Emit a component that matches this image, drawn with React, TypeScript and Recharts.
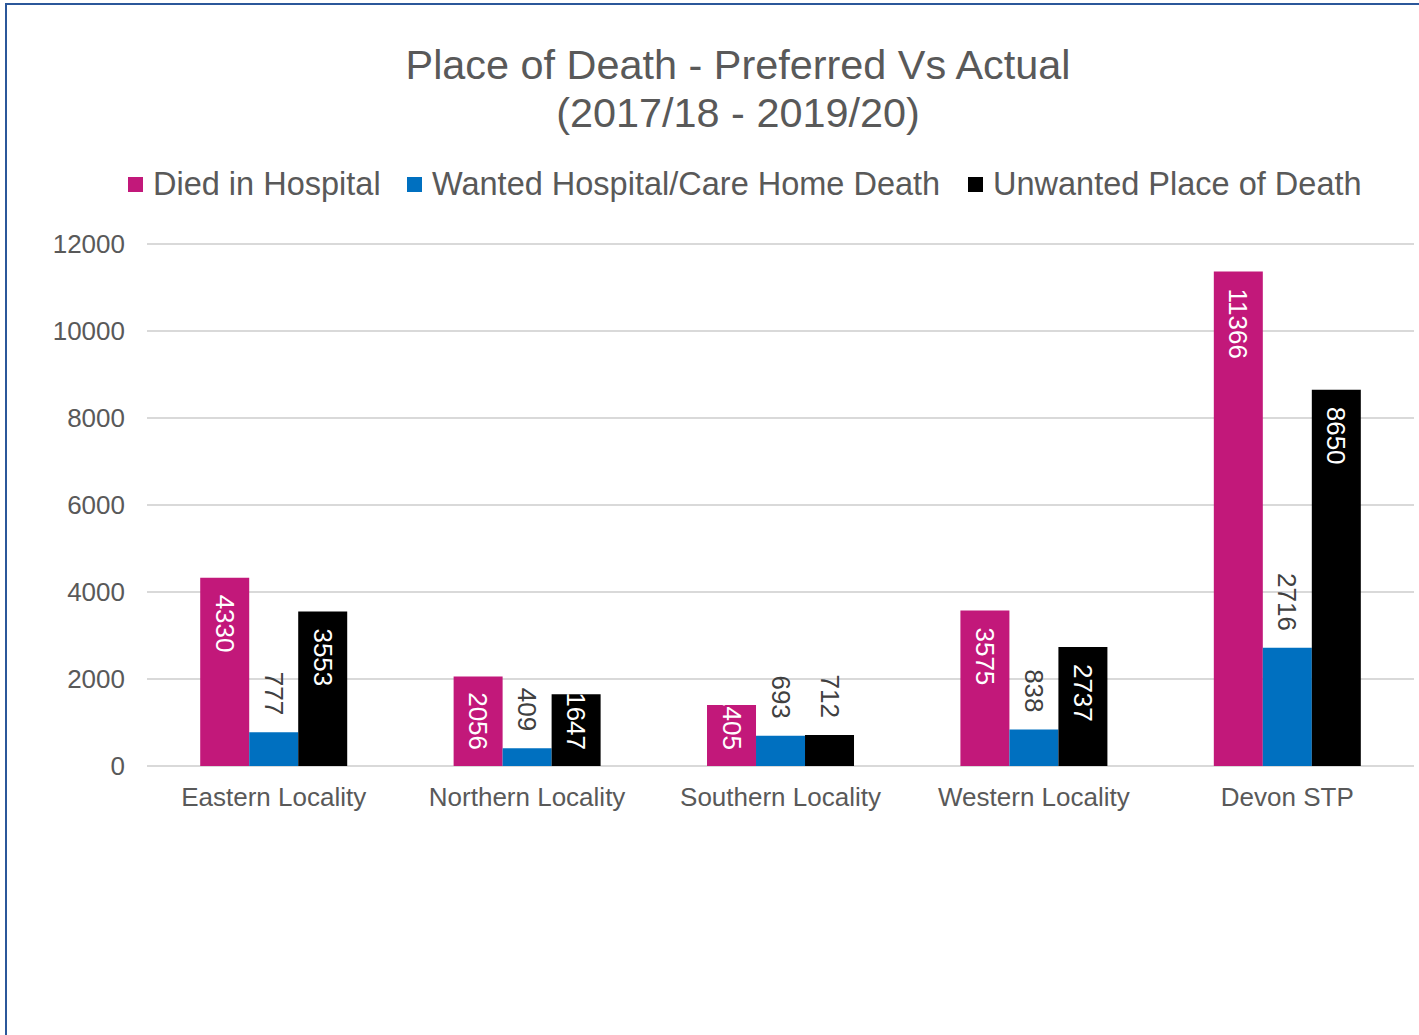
import React from 'react';
import { BarChart, Bar, XAxis, YAxis, CartesianGrid, LabelList } from 'recharts';

const categories = ['Eastern Locality', 'Northern Locality', 'Southern Locality', 'Western Locality', 'Devon STP'];
const diedInHospital = [4330, 2056, 1405, 3575, 11366];
const wantedHospital = [777, 409, 693, 838, 2716];
const unwantedPlace = [3553, 1647, 712, 2737, 8650];
const seriesNames = ['Died in Hospital', 'Wanted Hospital/Care Home Death', 'Unwanted Place of Death'];
const seriesColors = ['#C2187A', '#0070C0', '#000000'];
const yTicks = [0, 2000, 4000, 6000, 8000, 10000, 12000];
const titleLines = ['Place of Death - Preferred Vs Actual', '(2017/18 - 2019/20)'];

const data = categories.map((c, i) => ({
  name: c,
  died: diedInHospital[i],
  wanted: wantedHospital[i],
  unwanted: unwantedPlace[i],
}));

const FONT = '"Liberation Sans", Arial, sans-serif';
const GREY = '#595959';

const makeLabel = (mode: 'inside' | 'outside' | 'auto') => (props: any) => {
  const { x, y, width, height, value } = props;
  const text = String(value);
  const fs = 26;
  const len = text.length * fs * 0.556;
  const cx = Number(x) + Number(width) / 2;
  const top = Number(y);
  const bottom = top + Number(height);
  const outside = mode === 'outside' || (mode === 'auto' && Number(value) < 1000);
  if (outside) {
    const ay = top - 17;
    return (
      <text
        x={cx}
        y={ay}
        transform={`rotate(90 ${cx} ${ay})`}
        textAnchor="end"
        dominantBaseline="central"
        fill="#404040"
        fontSize={fs}
        fontFamily={FONT}
      >
        {text}
      </text>
    );
  }
  const ay = Math.min(top + 17, bottom - 16 - len);
  return (
    <text
      x={cx}
      y={ay}
      transform={`rotate(90 ${cx} ${ay})`}
      textAnchor="start"
      dominantBaseline="central"
      fill="#ffffff"
      fontSize={fs}
      fontFamily={FONT}
    >
      {text}
    </text>
  );
};

const legendX = [128, 407, 968];

export default function App() {
  return (
    <div
      style={{
        position: 'absolute',
        left: 0,
        top: 0,
        width: 1419,
        height: 1035,
        overflow: 'hidden',
        background: '#ffffff',
        fontFamily: FONT,
      }}
    >
      <div
        style={{
          position: 'absolute',
          left: 5,
          top: 3,
          width: 1500,
          height: 1100,
          borderLeft: '2px solid #2B579A',
          borderTop: '2px solid #2B579A',
        }}
      />
      <div
        style={{
          position: 'absolute',
          left: 0,
          width: 1476,
          top: 41,
          textAlign: 'center',
          color: GREY,
          fontSize: 41.4,
          lineHeight: '48px',
        }}
      >
        {titleLines.map((t) => (
          <div key={t}>{t}</div>
        ))}
      </div>
      {seriesNames.map((n, i) => (
        <div
          key={n}
          style={{
            position: 'absolute',
            left: legendX[i],
            top: 164,
            height: 40,
            display: 'flex',
            alignItems: 'center',
            color: GREY,
            fontSize: 32.5,
            whiteSpace: 'nowrap',
          }}
        >
          <span
            style={{
              display: 'inline-block',
              width: 15,
              height: 15,
              background: seriesColors[i],
              marginRight: 10,
            }}
          />
          <span>{n}</span>
        </div>
      ))}
      <div style={{ position: 'absolute', left: 0, top: 0 }}>
        <BarChart
          width={1419}
          height={1035}
          data={data}
          margin={{ top: 244, right: 5, bottom: 0, left: 0 }}
          barGap={0}
          barCategoryGap="21%"
        >
          <CartesianGrid vertical={false} stroke="#D9D9D9" strokeWidth={2} />
          <XAxis
            dataKey="name"
            axisLine={false}
            tickLine={false}
            tickSize={0}
            tickMargin={22}
            height={269}
            tick={{ fill: GREY, fontSize: 26, fontFamily: FONT }}
            interval={0}
          />
          <YAxis
            domain={[0, 12000]}
            ticks={yTicks}
            axisLine={false}
            tickLine={false}
            tickSize={0}
            tickMargin={22}
            width={147}
            tick={{ fill: GREY, fontSize: 26, fontFamily: FONT }}
          />
          <Bar dataKey="died" name={seriesNames[0]} fill={seriesColors[0]} isAnimationActive={false}>
            <LabelList dataKey="died" content={makeLabel('inside')} />
          </Bar>
          <Bar dataKey="wanted" name={seriesNames[1]} fill={seriesColors[1]} isAnimationActive={false}>
            <LabelList dataKey="wanted" content={makeLabel('outside')} />
          </Bar>
          <Bar dataKey="unwanted" name={seriesNames[2]} fill={seriesColors[2]} isAnimationActive={false}>
            <LabelList dataKey="unwanted" content={makeLabel('auto')} />
          </Bar>
        </BarChart>
      </div>
    </div>
  );
}
